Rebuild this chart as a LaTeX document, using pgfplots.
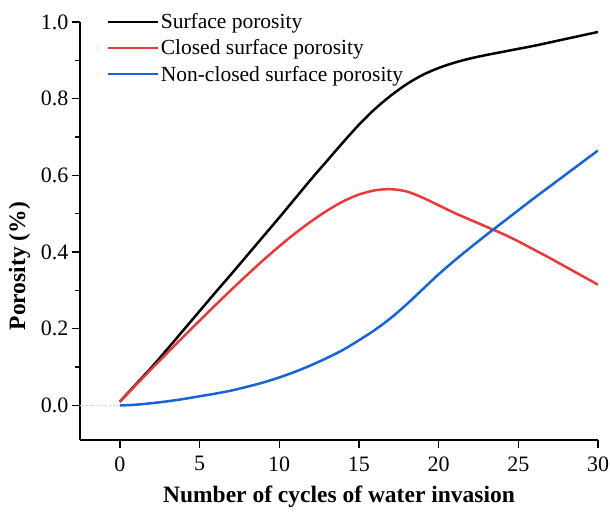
\documentclass[border=0pt]{standalone}
\usepackage{pgfplots}
\pgfplotsset{compat=1.18}
\usepackage{fontspec}
\setmainfont{Liberation Serif}
\definecolor{porred}{RGB}{232,57,59}
\definecolor{porblue}{RGB}{22,100,216}

\pgfplotstableread{
x   total  closed open
0   0.010  0.010  0.000
1   0.055  0.053  0.002
2   0.100  0.096  0.006
3   0.148  0.138  0.011
4   0.197  0.180  0.017
5   0.246  0.221  0.024
6   0.295  0.262  0.031
7   0.343  0.302  0.039
8   0.392  0.341  0.049
9   0.441  0.379  0.060
10  0.490  0.415  0.073
11  0.540  0.449  0.088
12  0.590  0.480  0.105
13  0.638  0.508  0.124
14  0.686  0.532  0.145
15  0.732  0.550  0.170
16  0.773  0.561  0.197
17  0.808  0.564  0.228
18  0.838  0.558  0.264
19  0.862  0.542  0.303
20  0.880  0.522  0.342
21  0.894  0.502  0.378
22  0.905  0.484  0.412
23  0.914  0.466  0.445
24  0.922  0.448  0.477
25  0.930  0.428  0.509
26  0.938  0.406  0.541
27  0.947  0.384  0.572
28  0.956  0.361  0.603
29  0.965  0.338  0.634
30  0.974  0.315  0.665
}\porosity

\begin{document}
\begin{tikzpicture}
\begin{axis}[
  scale only axis, width=518pt, height=418pt,
  xmin=-2.5, xmax=30, ymin=-0.09, ymax=1.0,
  axis lines*=left, axis line style={line width=1.6pt},
  tick align=outside, major tick length=8pt, minor tick length=5pt,
  tick style={line width=1.4pt, black},
  xtick={0,5,...,30}, ytick={0,0.2,...,1.0}, minor y tick num=1,
  yticklabel style={/pgf/number format/.cd, fixed, fixed zerofill, precision=1},
  xticklabel style={yshift=-5pt},
  /pgf/number format/assume math mode=true,
  tick label style={font=\fontsize{22}{25}\selectfont},
  xlabel={Number of cycles of water invasion},
  ylabel={Porosity (\%)},
  label style={font=\fontsize{23.5}{27}\selectfont\bfseries},
  xlabel style={yshift=-8pt},
  ylabel style={at={(ticklabel cs:0.416)}, yshift=4pt},
  legend style={draw=none, fill=none, at={(0.045,1.03)}, anchor=north west,
    font=\fontsize{21.5}{24}\selectfont, row sep=5.5pt,
    /tikz/every even column/.append style={column sep=3pt}},
  legend cell align=left,
  legend image code/.code={\draw[#1, line width=2.5pt] (0cm,0cm) -- (1.75cm,0cm);},
]
\addplot[black, line width=2.5pt, smooth] table[x=x, y=total] {\porosity};
\addlegendentry{Surface porosity}
\addplot[porred, line width=2.5pt, smooth] table[x=x, y=closed] {\porosity};
\addlegendentry{Closed surface porosity}
\addplot[porblue, line width=2.5pt, smooth] table[x=x, y=open] {\porosity};
\addlegendentry{Non-closed surface porosity}
\addplot[gray!40, dotted, forget plot] coordinates {(-2.5,0) (0,0)};
\end{axis}
\pgfresetboundingbox
\path ([shift={(-80pt,-73pt)}]current axis.south west) rectangle ([shift={(12pt,22pt)}]current axis.north east);
\end{tikzpicture}
\end{document}
